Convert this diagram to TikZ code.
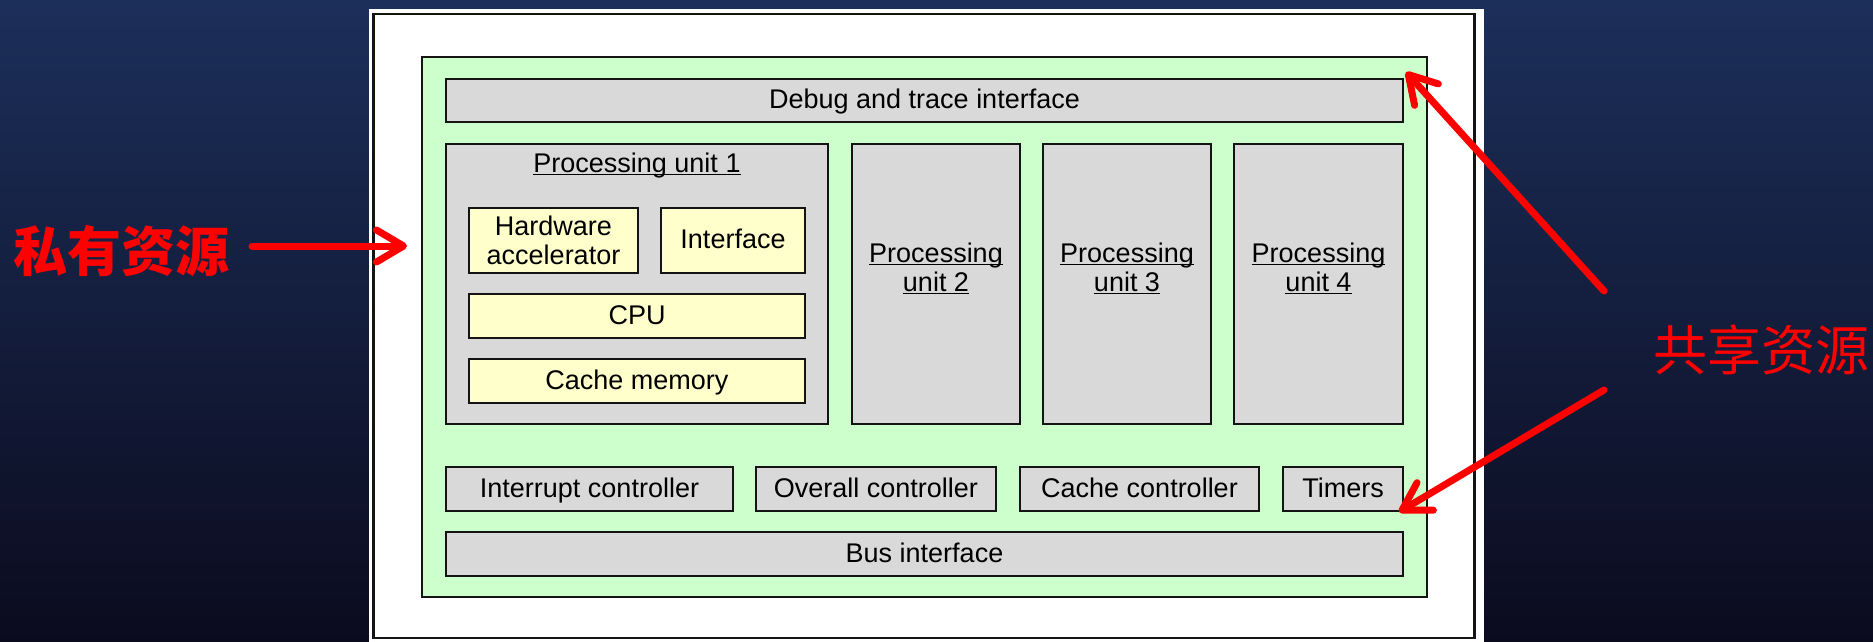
\documentclass[tikz,border=0pt]{standalone}
\usepackage{fontspec}
\setmainfont{Liberation Sans}
\newfontfamily\cjk{Noto Sans CJK SC}
\usetikzlibrary{arrows.meta}

\definecolor{bgtop}{RGB}{28,47,90}
\definecolor{bgbot}{RGB}{11,11,30}
\definecolor{boxgray}{RGB}{217,217,217}
\definecolor{boxyellow}{RGB}{255,255,204}
\definecolor{boxgreen}{RGB}{204,255,204}
\definecolor{edge}{RGB}{20,20,20}
\definecolor{mark}{RGB}{255,0,0}

% underline a piece of text a little below its baseline
\newcommand\uln[1]{\setbox0=\hbox{#1}\rlap{\rule[-3.3pt]{\wd0}{1.6pt}}\box0}

\begin{document}
\begin{tikzpicture}[x=1pt,y=-1pt,
  blk/.style={draw=edge, line width=2pt, inner sep=0pt,
    font=\fontsize{27}{29}\selectfont, align=center},
  oneline/.style={text height=19.7pt, text depth=3pt},
  graybox/.style={blk, fill=boxgray},
  yelbox/.style={blk, fill=boxyellow},
  txt/.style={inner sep=0pt, font=\fontsize{27}{29}\selectfont},
  cjklabel/.style={inner sep=0pt, text=mark, font=\cjk\fontsize{54}{60}\selectfont},
  pointer/.style={draw=mark, line width=7pt, line cap=round,
    -{Straight Barb[length=27pt,width=32pt,round]}}
]
\useasboundingbox (0,0) rectangle (1873,642);

% slide background and white page
\shade[top color=bgtop, bottom color=bgbot] (0,0) rectangle (1873,642);
\fill[white] (369,9) rectangle (1484,642);
\draw[edge, line width=2.5pt] (373.5,14) rectangle (1474.5,638);

% chip outline
\node[blk, fill=boxgreen, minimum width=1005pt, minimum height=540pt] (chip) at (924.5,327) {};

% shared blocks, top and bottom rows
\node[graybox, oneline, minimum width=957pt, minimum height=43pt] (debug) at (924.5,100.5) {Debug and trace interface};
\node[graybox, oneline, minimum width=287pt, minimum height=44pt] (intr) at (589.5,489) {Interrupt controller};
\node[graybox, oneline, minimum width=240pt, minimum height=44pt] (ovr) at (876,489) {Overall controller};
\node[graybox, oneline, minimum width=239pt, minimum height=44pt] (cctl) at (1139.5,489) {Cache controller};
\node[graybox, oneline, minimum width=120pt, minimum height=44pt] (tmr) at (1343,489) {Timers};
\node[graybox, oneline, minimum width=957pt, minimum height=44pt] (bus) at (924.5,554) {Bus interface};

% processing unit 1 with its private resources
\node[graybox, minimum width=382pt, minimum height=280pt] (pu1) at (637,284) {};
\node[txt, anchor=base] (pu1t) at (637,172) {\uln{Processing unit 1}};
\node[yelbox, minimum width=169pt, minimum height=65pt] (hwa) at (553.5,240.5) {Hardware\\accelerator};
\node[yelbox, oneline, minimum width=144pt, minimum height=65pt] (intf) at (733,240.5) {Interface};
\node[yelbox, oneline, minimum width=336pt, minimum height=44pt] (cpu) at (637,316) {CPU};
\node[yelbox, oneline, minimum width=336pt, minimum height=44pt] (cmem) at (637,381) {Cache memory};

% processing units 2 to 4
\node[graybox, minimum width=168pt, minimum height=280pt] (pu2) at (936,284) {};
\node[graybox, minimum width=168pt, minimum height=280pt] (pu3) at (1127,284) {};
\node[graybox, minimum width=169pt, minimum height=280pt] (pu4) at (1318.5,284) {};
\node[txt, anchor=base] (pu2a) at (936,262) {\uln{Processing}};
\node[txt, anchor=base] (pu2b) at (936,291) {\uln{unit 2}};
\node[txt, anchor=base] (pu3a) at (1127,262) {\uln{Processing}};
\node[txt, anchor=base] (pu3b) at (1127,291) {\uln{unit 3}};
\node[txt, anchor=base] (pu4a) at (1318.5,262) {\uln{Processing}};
\node[txt, anchor=base] (pu4b) at (1318.5,291) {\uln{unit 4}};

% annotations
\node[cjklabel, font=\cjk\bfseries\fontsize{54}{60}\selectfont] (priv) at (121.5,251) {私有资源};
\node[cjklabel] (shared) at (1761,350) {共享资源};

\coordinate (privtail) at (252,246);
\coordinate (privtip) at (407,246);
\coordinate (shtail1) at (1604,291);
\coordinate (shtip1) at (1406,72);
\coordinate (shtail2) at (1604,390);
\coordinate (shtip2) at (1399,512);

\draw[pointer] (privtail) -- (privtip);
\draw[pointer] (shtail1) -- (shtip1);
\draw[pointer] (shtail2) -- (shtip2);
\end{tikzpicture}
\end{document}
